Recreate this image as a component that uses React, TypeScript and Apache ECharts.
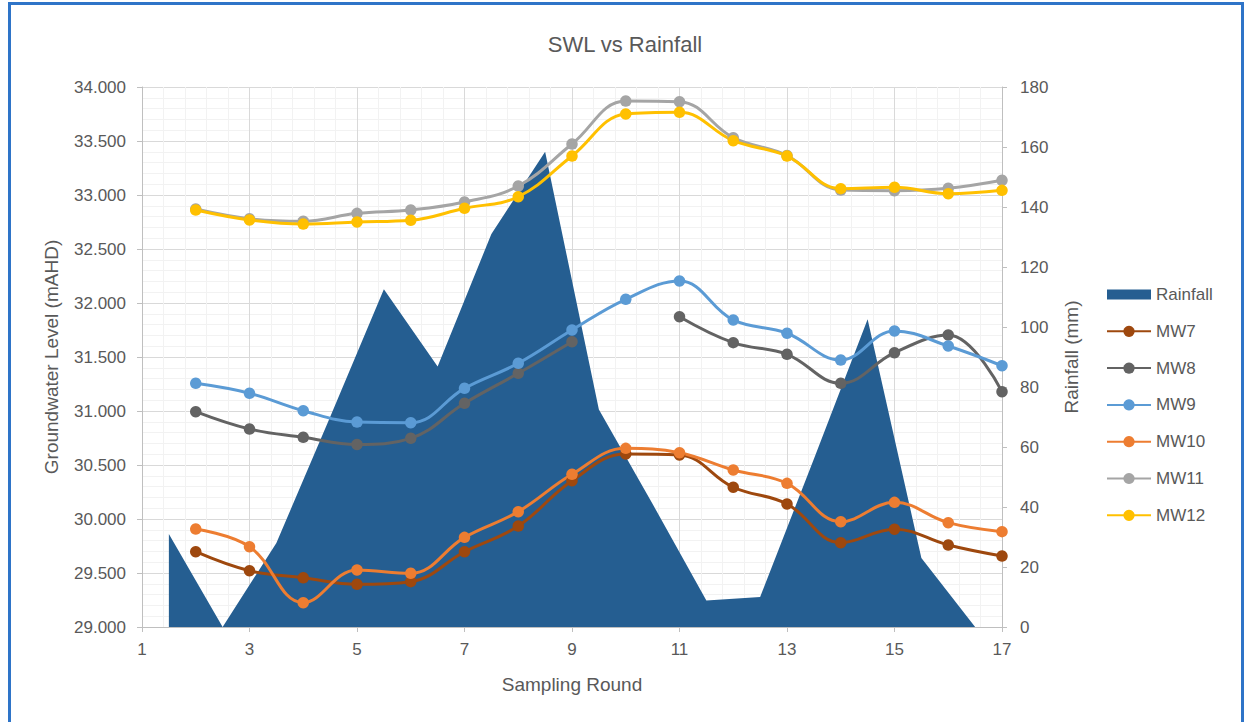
import React, { useEffect, useRef } from "react";
import * as echarts from "echarts";

// Sampling rounds for monitoring wells
const rounds = [2, 3, 4, 5, 6, 7, 8, 9, 10, 11, 12, 13, 14, 15, 16, 17];
// Rainfall is plotted between sampling rounds
const rainfallRounds = [1.5, 2.5, 3.5, 4.5, 5.5, 6.5, 7.5, 8.5, 9.5, 10.5, 11.5, 12.5, 13.5, 14.5, 15.5, 16.5];
const rainfall = [31, 0, 28, 70, 112.6, 86.8, 131, 158.4, 72.5, 41, 8.8, 10, 56, 102.6, 23, 0];

const mw7 = [29.697, 29.521, 29.456, 29.395, 29.42, 29.697, 29.935, 30.355, 30.602, 30.593, 30.294, 30.139, 29.781, 29.906, 29.759, 29.657];
const mw8 = [30.994, 30.833, 30.756, 30.69, 30.747, 31.071, 31.349, 31.642, null, 31.873, 31.633, 31.525, 31.256, 31.54, 31.704, 31.179];
const mw9 = [31.256, 31.164, 31.003, 30.898, 30.892, 31.21, 31.442, 31.75, 32.034, 32.204, 31.843, 31.72, 31.472, 31.741, 31.602, 31.419];
const mw10 = [29.907, 29.744, 29.225, 29.528, 29.497, 29.83, 30.068, 30.414, 30.654, 30.614, 30.454, 30.33, 29.975, 30.154, 29.966, 29.883];
const mw11 = [32.87, 32.78, 32.757, 32.83, 32.861, 32.935, 33.083, 33.472, 33.87, 33.864, 33.531, 33.365, 33.046, 33.04, 33.062, 33.136];
const mw12 = [32.861, 32.769, 32.731, 32.75, 32.766, 32.877, 32.984, 33.361, 33.75, 33.766, 33.503, 33.361, 33.059, 33.071, 33.012, 33.043];

const wellNames = ["MW7", "MW8", "MW9", "MW10", "MW11", "MW12"];
const wellData = [mw7, mw8, mw9, mw10, mw11, mw12];
const wellColors = ["#9E480E", "#636363", "#5B9BD5", "#ED7D31", "#A5A5A5", "#FFC000"];
const rainColor = "#255E91";

const FONT = "Liberation Sans, Arial, sans-serif";
const TXT = "#595959";

export default function App() {
  const ref = useRef<HTMLDivElement>(null);

  useEffect(() => {
    if (!ref.current) return;
    const chart = echarts.init(ref.current, undefined, { renderer: "svg" });

    const wellSeries = wellNames.map((name, i) => ({
      name,
      type: "line",
      yAxisIndex: 0,
      smooth: 0.4,
      connectNulls: false,
      symbol: "circle",
      symbolSize: 11.5,
      data: rounds.map((r, k) => [r, wellData[i][k] === null ? "-" : wellData[i][k]]),
      lineStyle: { color: wellColors[i], width: 3 },
      itemStyle: { color: wellColors[i] },
      z: 3,
    }));

    chart.setOption({
      animation: false,
      textStyle: { fontFamily: FONT },
      title: {
        text: "SWL vs Rainfall",
        left: "center",
        top: 28,
        textStyle: { fontSize: 22, fontWeight: "normal", color: TXT, fontFamily: FONT },
      },
      legend: {
        orient: "vertical",
        left: 1101,
        top: 281,
        itemWidth: 44,
        itemHeight: 14,
        itemGap: 19.8,
        textStyle: { fontSize: 17, color: TXT, fontFamily: FONT },
        data: [
          { name: "Rainfall", icon: "path://M0 0H44V10H0Z" },
          ...wellNames.map((n) => ({ name: n })),
        ],
      },
      grid: { left: 142, right: 248, top: 87, bottom: 95, containLabel: false },
      xAxis: {
        type: "value",
        min: 1,
        max: 17,
        interval: 2,
        name: "Sampling Round",
        nameLocation: "middle",
        nameGap: 48,
        nameTextStyle: { fontSize: 19, color: TXT, fontFamily: FONT },
        axisLine: { show: true, onZero: false, lineStyle: { color: "#BFBFBF", width: 1 } },
        axisTick: { show: true, length: 5, lineStyle: { color: "#BFBFBF" } },
        axisLabel: { fontSize: 17, color: TXT, margin: 14, fontFamily: FONT },
        splitLine: { show: true, lineStyle: { color: "#D9D9D9", width: 1 } },
        minorTick: { show: false, splitNumber: 5 },
        minorSplitLine: { show: true, lineStyle: { color: "#F2F2F2", width: 1 } },
      },
      yAxis: [
        {
          type: "value",
          min: 29,
          max: 34,
          interval: 0.5,
          position: "left",
          name: "Groundwater Level (mAHD)",
          nameLocation: "middle",
          nameRotate: 90,
          nameGap: 81,
          nameTextStyle: { fontSize: 19, color: TXT, fontFamily: FONT },
          axisLine: { show: true, lineStyle: { color: "#BFBFBF", width: 1 } },
          axisTick: { show: true, length: 5, lineStyle: { color: "#BFBFBF" } },
          axisLabel: {
            fontSize: 17,
            color: TXT,
            margin: 16,
            fontFamily: FONT,
            formatter: (v: number) => v.toFixed(3),
          },
          splitLine: { show: true, lineStyle: { color: "#D9D9D9", width: 1 } },
          minorTick: { show: false, splitNumber: 5 },
          minorSplitLine: { show: true, lineStyle: { color: "#F2F2F2", width: 1 } },
        },
        {
          type: "value",
          min: 0,
          max: 180,
          interval: 20,
          position: "right",
          name: "Rainfall (mm)",
          nameLocation: "middle",
          nameRotate: 90,
          nameGap: 60,
          nameTextStyle: { fontSize: 19, color: TXT, fontFamily: FONT },
          axisLine: { show: true, lineStyle: { color: "#BFBFBF", width: 1 } },
          axisTick: { show: true, length: 5, lineStyle: { color: "#BFBFBF" } },
          axisLabel: { fontSize: 17, color: TXT, margin: 18, fontFamily: FONT },
          splitLine: { show: false },
        },
      ],
      series: [
        {
          name: "Rainfall",
          type: "line",
          yAxisIndex: 1,
          symbol: "none",
          smooth: false,
          data: rainfallRounds.map((r, k) => [r, rainfall[k]]),
          lineStyle: { width: 0, color: rainColor },
          itemStyle: { color: rainColor },
          areaStyle: { color: rainColor, opacity: 1, origin: "start" },
          z: 2,
        },
        ...wellSeries,
      ],
    });

    return () => chart.dispose();
  }, []);

  return (
    <div style={{ position: "absolute", left: 0, top: 0, width: 1250, height: 722, background: "#fff", overflow: "hidden" }}>
      <div ref={ref} style={{ position: "absolute", left: 0, top: 0, width: 1250, height: 722 }} />
      <div
        style={{
          position: "absolute",
          left: 8,
          top: 2,
          width: 1236,
          height: 760,
          border: "3px solid #2E74C8",
          boxSizing: "border-box",
          pointerEvents: "none",
        }}
      />
    </div>
  );
}
